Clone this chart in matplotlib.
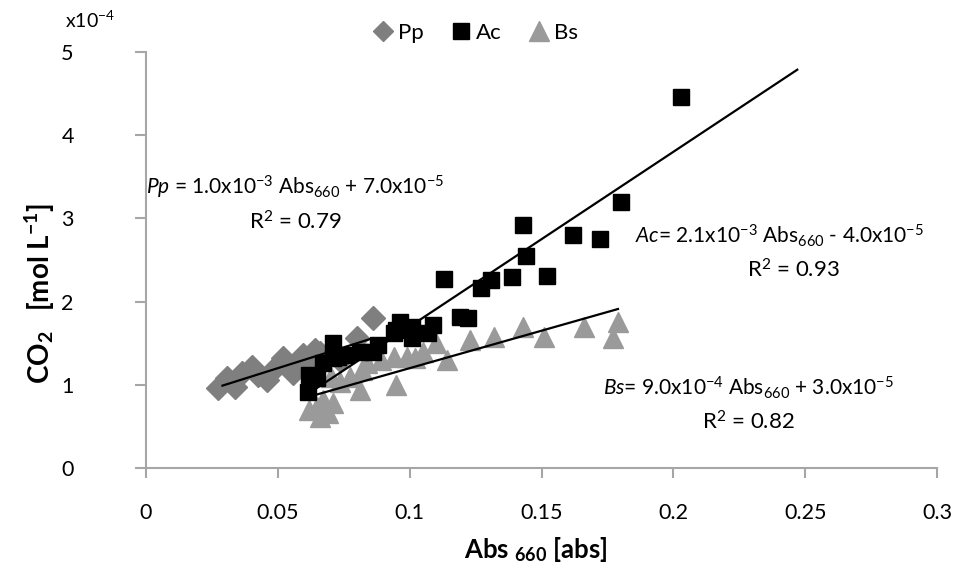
import matplotlib
matplotlib.use("Agg")
import matplotlib.pyplot as plt
import numpy as np
from matplotlib.lines import Line2D

plt.rcParams['font.family'] = ['Lato', 'DejaVu Sans']
plt.rcParams['mathtext.fontset'] = 'custom'
plt.rcParams['mathtext.rm'] = 'Lato'
plt.rcParams['mathtext.it'] = 'Lato:italic'
plt.rcParams['mathtext.bf'] = 'Lato:bold'

# ---- data (CO2 in units of 1e-4 mol/L) ----
pp_abs = [0.0273, 0.0308, 0.0338, 0.0365, 0.0403, 0.0425, 0.0460, 0.0482, 0.0520,
          0.0555, 0.0558, 0.0596, 0.0615, 0.0642, 0.0660, 0.0737, 0.0800, 0.0862]
pp_co2 = [0.96, 1.08, 0.97, 1.14, 1.21, 1.12, 1.06, 1.18, 1.32,
          1.20, 1.14, 1.36, 1.26, 1.42, 1.38, 1.30, 1.56, 1.80]

ac_abs = [0.203, 0.180, 0.172, 0.162, 0.152, 0.143, 0.144, 0.139, 0.131, 0.127,
          0.113, 0.119, 0.122, 0.109, 0.107, 0.101, 0.101, 0.0965, 0.095, 0.094,
          0.088, 0.086, 0.081, 0.076, 0.073, 0.071, 0.071, 0.067, 0.062, 0.0615, 0.065]
ac_co2 = [4.46, 3.20, 2.75, 2.80, 2.31, 2.92, 2.55, 2.30, 2.26, 2.16,
          2.27, 1.81, 1.80, 1.72, 1.62, 1.69, 1.56, 1.75, 1.66, 1.62,
          1.48, 1.39, 1.39, 1.36, 1.33, 1.50, 1.32, 1.26, 1.12, 0.91, 1.08]

bs_abs = [0.179, 0.177, 0.166, 0.151, 0.143, 0.132, 0.123, 0.114, 0.110, 0.105,
          0.102, 0.099, 0.095, 0.094, 0.089, 0.084, 0.082, 0.081, 0.0775, 0.0737,
          0.070, 0.071, 0.067, 0.065, 0.062, 0.069, 0.066]
bs_co2 = [1.75, 1.56, 1.69, 1.57, 1.69, 1.57, 1.54, 1.30, 1.50, 1.39,
          1.32, 1.33, 1.00, 1.33, 1.30, 1.26, 1.18, 0.94, 1.09, 1.03,
          1.09, 0.78, 0.82, 0.73, 0.70, 0.66, 0.61]

# linear fits: slope (mol/L per abs), intercept (mol/L), x-range of trendline
fit_names = ['Pp', 'Ac', 'Bs']
fit_slope = [1.0e-3, 2.1e-3, 9.0e-4]
fit_icpt = [7.0e-5, -4.0e-5, 3.0e-5]
fit_xmin = [0.029, 0.0615, 0.062]
fit_xmax = [0.086, 0.247, 0.179]

x_ticks = [0, 0.05, 0.1, 0.15, 0.2, 0.25, 0.3]
x_tick_labels = ['0', '0.05', '0.1', '0.15', '0.2', '0.25', '0.3']
y_ticks = [0, 1, 2, 3, 4, 5]
y_tick_labels = ['0', '1', '2', '3', '4', '5']

W, H = 977, 574
fig = plt.figure(figsize=(W / 100, H / 100), dpi=100)
ax = fig.add_axes([146 / W, 1 - 468 / H, 791 / W, 416 / H])

c_pp = '#7f7f7f'
c_ac = '#000000'
c_bs = '#9a9a9a'

ax.plot(bs_abs, bs_co2, linestyle='none', marker='^', ms=15, color=c_bs, mec=c_bs, label='Bs', zorder=2)
ax.plot(pp_abs, pp_co2, linestyle='none', marker='D', ms=12, color=c_pp, mec=c_pp, label='Pp', zorder=3)
ax.plot(ac_abs, ac_co2, linestyle='none', marker='s', ms=12, color=c_ac, mec=c_ac, label='Ac', zorder=4)

for s, b, x0, x1 in zip(fit_slope, fit_icpt, fit_xmin, fit_xmax):
    xs = np.array([x0, x1])
    ax.plot(xs, (s * xs + b) * 1e4, color='black', lw=1.6, zorder=5)

ax.set_xlim(0, 0.3)
ax.set_ylim(0, 5)
ax.set_xticks(x_ticks)
ax.set_xticklabels(x_tick_labels)
ax.set_yticks(y_ticks)
ax.set_yticklabels(y_tick_labels)

for sp in ['top', 'right']:
    ax.spines[sp].set_visible(False)
for sp in ['left', 'bottom']:
    ax.spines[sp].set_color('#a6a6a6')
    ax.spines[sp].set_linewidth(1.5)
ax.tick_params(axis='both', colors='#a6a6a6', width=1.5, labelcolor='black', labelsize=15.5)
ax.tick_params(axis='x', length=7, pad=18)
ax.tick_params(axis='y', length=8, pad=44)

fig.text(65 / W, 1 - 20 / H, 'x10$^{-4}$', fontsize=14, ha='left', va='center')

ax.set_xlabel('Abs $_{\\mathbf{660}}$ [abs]', fontsize=18.5, fontweight='bold', va='center')
ax.xaxis.set_label_coords((536 - 146) / 791, (468 - 549) / 416)
ax.set_ylabel('CO$_{\\mathbf{2}}$   [mol L$^{\\mathbf{-1}}$]', fontsize=20, fontweight='bold', va='center')
ax.yaxis.set_label_coords((40 - 146) / 791, (468 - 293) / 416)

fs = 15
ax.text(0.0566, 3.37, '$\\mathit{Pp}$ = 1.0x10$^{-3}$ Abs$_{660}$ + 7.0x10$^{-5}$', fontsize=fs, ha='center', va='center')
ax.text(0.0566, 2.96, 'R$^{2}$ = 0.79', fontsize=16, ha='center', va='center')
ax.text(0.2404, 2.79, '$\\mathit{Ac}$= 2.1x10$^{-3}$ Abs$_{660}$ - 4.0x10$^{-5}$', fontsize=fs, ha='center', va='center')
ax.text(0.2455, 2.38, 'R$^{2}$ = 0.93', fontsize=16, ha='center', va='center')
ax.text(0.2286, 0.96, '$\\mathit{Bs}$= 9.0x10$^{-4}$ Abs$_{660}$ + 3.0x10$^{-5}$', fontsize=fs, ha='center', va='center')
ax.text(0.2286, 0.55, 'R$^{2}$ = 0.82', fontsize=16, ha='center', va='center')

handles = [Line2D([], [], ls='none', marker='D', ms=10, color=c_pp),
           Line2D([], [], ls='none', marker='s', ms=11, color=c_ac),
           Line2D([], [], ls='none', marker='^', ms=14, color=c_bs)]
fig.legend(handles, fit_names, loc='center', bbox_to_anchor=(474 / W, 1 - 33 / H), ncol=3,
           frameon=False, fontsize=16, handletextpad=0.05, columnspacing=1.1, handlelength=1.2)

fig.savefig('out.png', dpi=100)
